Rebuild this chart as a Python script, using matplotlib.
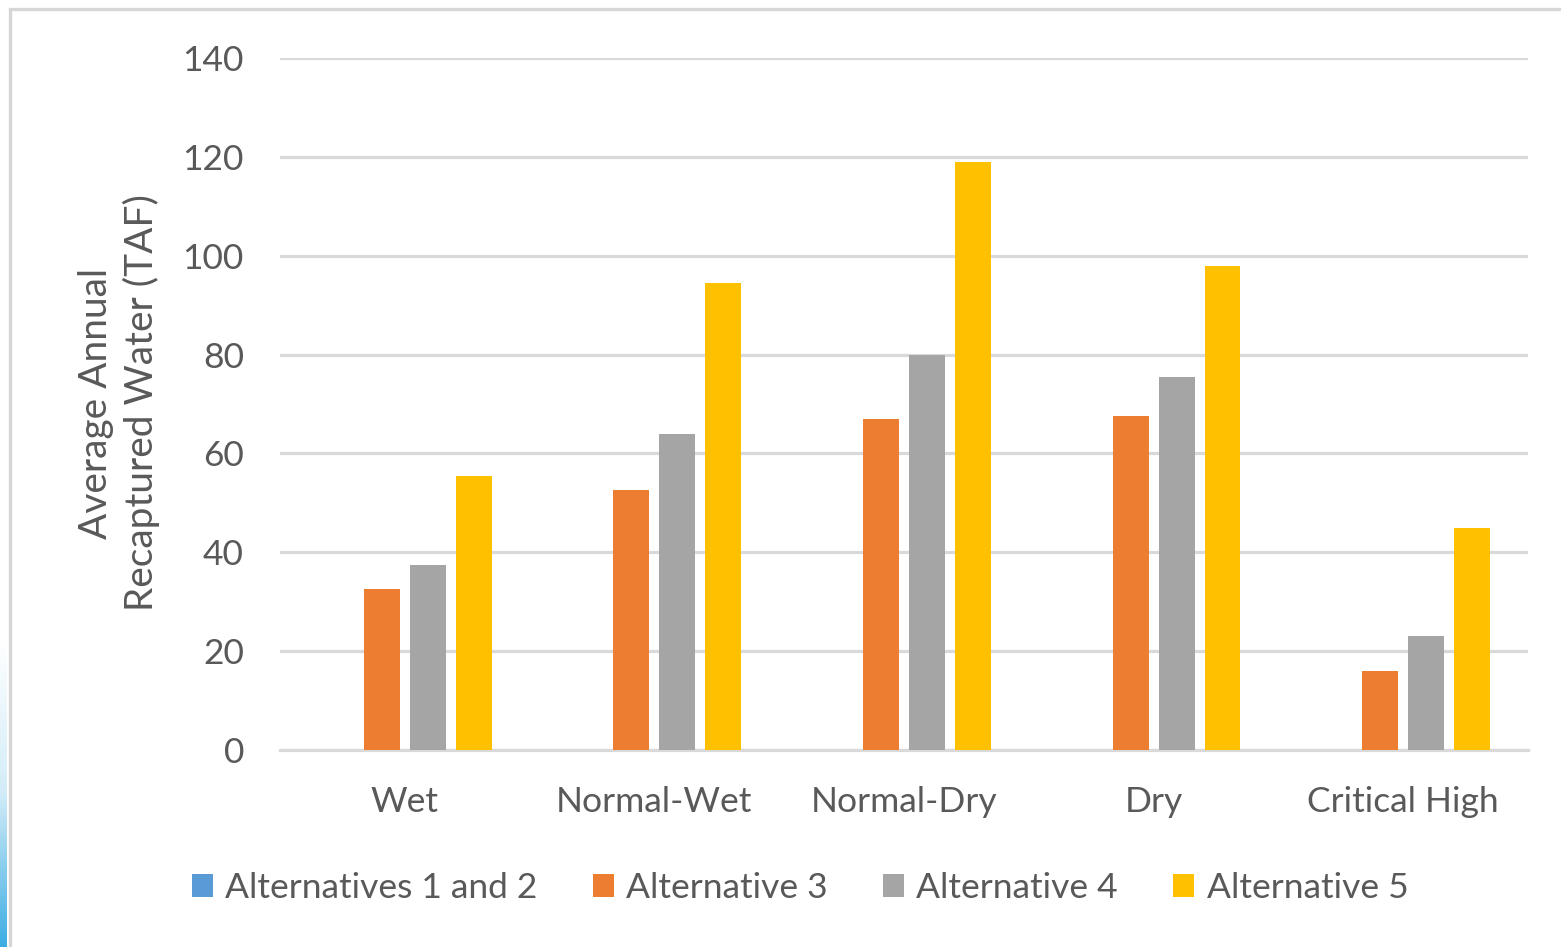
import numpy as np
import matplotlib
matplotlib.use("Agg")
import matplotlib.pyplot as plt
from matplotlib.patches import Rectangle, Patch
from matplotlib.colors import LinearSegmentedColormap

# Water year types and average annual recaptured water (TAF) per alternative
categories = ["Wet", "Normal-Wet", "Normal-Dry", "Dry", "Critical High"]
series_names = ["Alternatives 1 and 2", "Alternative 3", "Alternative 4", "Alternative 5"]
alt_1_2 = [0, 0, 0, 0, 0]
alt_3 = [32.5, 52.5, 67.0, 67.5, 16.0]
alt_4 = [37.5, 64.0, 80.0, 75.5, 23.0]
alt_5 = [55.5, 94.5, 119.0, 98.0, 45.0]
y_ticks = [0, 20, 40, 60, 80, 100, 120, 140]

colors = ["#5B9BD5", "#ED7D31", "#A5A5A5", "#FFC000"]
text_color = "#595959"
grid_color = "#D9D9D9"

plt.rcParams["font.family"] = ["Lato", "DejaVu Sans"]

W, H = 1561, 947
fig = plt.figure(figsize=(W / 100, H / 100), dpi=100)
fig.patch.set_facecolor("white")

ax = fig.add_axes([280 / W, 1 - 750 / H, (1528 - 280) / W, (750 - 58) / H])

x = np.arange(len(categories))
step = 0.184
width = 0.144
all_series = [alt_1_2, alt_3, alt_4, alt_5]
for j, (vals, col) in enumerate(zip(all_series, colors)):
    ax.bar(x + (j - 1.5) * step, vals, width=width, color=col, zorder=3)

ax.set_xlim(-0.5, len(categories) - 0.5)
ax.set_ylim(0, 140)
ax.set_yticks(y_ticks)
ax.set_xticks(x)
ax.set_xticklabels(categories)
ax.yaxis.grid(True, color=grid_color, linewidth=2.3, zorder=0)
ax.set_axisbelow(True)
for s in ["top", "right", "left"]:
    ax.spines[s].set_visible(False)
ax.spines["bottom"].set_color(grid_color)
ax.spines["bottom"].set_linewidth(2.3)
ax.tick_params(axis="both", length=0, labelsize=25.5, colors=text_color)
ax.tick_params(axis="y", pad=26)
ax.tick_params(axis="x", pad=26)

fig.text(119 / W, 1 - 403 / H, "Average Annual\nRecaptured Water (TAF)",
         rotation=90, ha="center", va="center", fontsize=28,
         color=text_color, linespacing=1.3, multialignment="center")

handles = [Patch(facecolor=c, edgecolor="none") for c in colors]
leg = fig.legend(handles, series_names, loc="center", ncol=4,
                 bbox_to_anchor=(800 / W, 1 - 888 / H), frameon=False,
                 fontsize=25.5, handlelength=0.6, handleheight=0.6,
                 handletextpad=0.35, columnspacing=1.55)
for t in leg.get_texts():
    t.set_color(text_color)

# Outer chart frame
fig.patches.append(Rectangle((9.5 / W, -0.05), 1.2, 1.05 - 9.5 / H,
                             transform=fig.transFigure, fill=False,
                             edgecolor="#D6D6D6", linewidth=2.4))

# Blue gradient strip along the lower left edge
grad_ax = fig.add_axes([0, 0, 7 / W, (947 - 640) / H])
cmap = LinearSegmentedColormap.from_list("edge", ["#FFFFFF", "#D2ECF8", "#3DADE3"])
grad_ax.imshow(np.linspace(0, 1, 256).reshape(-1, 1), aspect="auto",
               cmap=cmap, origin="upper")
grad_ax.set_axis_off()

fig.savefig("out.png", dpi=100, facecolor="white")
